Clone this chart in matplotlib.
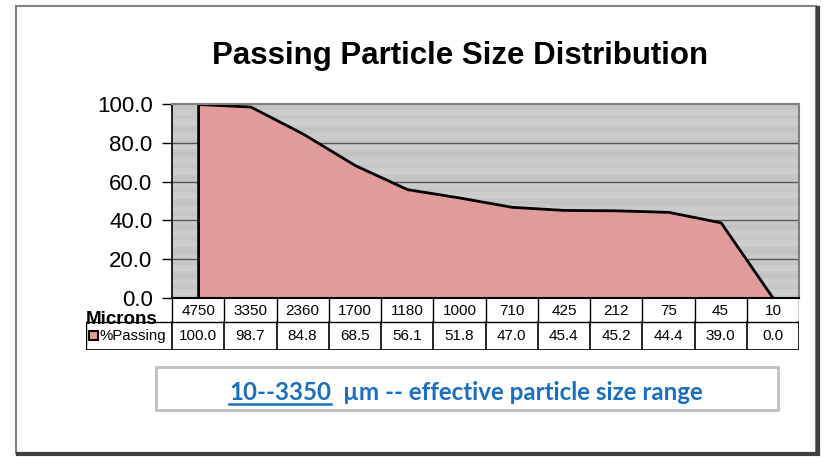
import numpy as np
import matplotlib
matplotlib.use("Agg")
import matplotlib.pyplot as plt
from matplotlib.patches import Rectangle
from matplotlib.lines import Line2D

# ---- data ----
microns = ["4750", "3350", "2360", "1700", "1180", "1000", "710", "425", "212", "75", "45", "10"]
passing = [100.0, 98.7, 84.8, 68.5, 56.1, 51.8, 47.0, 45.4, 45.2, 44.4, 39.0, 0.0]
yticks = [0, 20, 40, 60, 80, 100]
title = "Passing Particle Size Distribution"
series_name = "%Passing"
row_header = "Microns"
note_range = "10--3350"
note_rest = "µm -- effective particle size range"

W, H = 827, 458
fig = plt.figure(figsize=(W / 100, H / 100), dpi=100)
fig.patch.set_facecolor("white")

def fx(px):
    return px / W

def fy(py):
    return 1 - py / H

# outer frame
fig.patches.append(Rectangle((fx(16), fy(453)), fx(816) - fx(16), fy(6) - fy(453),
                             transform=fig.transFigure, fill=False, edgecolor="#808080", lw=1.5))
fig.lines.append(Line2D([fx(818), fx(818)], [fy(452), fy(8)], transform=fig.transFigure,
                        color="#404040", lw=3))
fig.lines.append(Line2D([fx(18), fx(818)], [fy(454), fy(454)], transform=fig.transFigure,
                        color="#404040", lw=3))

# plot area
L, R, T, B = 172, 799, 104, 298
ax = fig.add_axes([fx(L), fy(B), fx(R) - fx(L), fy(T) - fy(B)])
n = len(microns)
x = np.arange(n)
ax.set_xlim(-0.5, n - 0.5)
ax.set_ylim(0, 100)

# striped gray background
rows = 64
stripe = np.array([0.76, 0.78, 0.80, 0.79, 0.77, 0.80, 0.81, 0.78] * (rows // 8))
img = np.repeat(stripe[:, None], 2, axis=1)
ax.imshow(img, cmap="gray", vmin=0, vmax=1, extent=(-0.5, n - 0.5, 0, 100),
          aspect="auto", zorder=0, interpolation="nearest")

for yv in yticks[1:-1]:
    ax.axhline(yv, color="#555555", lw=1.0, zorder=1)

ax.fill_between(x, passing, 0, facecolor="#e09b9a", edgecolor="black", lw=2, zorder=2)

ax.set_yticks(yticks)
ax.set_yticklabels([f"{v:.1f}" for v in yticks], fontsize=16, family="Liberation Sans")
ax.tick_params(axis="y", length=7, width=1, pad=7, color="black")
ax.set_xticks([])
for s in ["top", "right"]:
    ax.spines[s].set_color("#808080")
    ax.spines[s].set_linewidth(1.5)
ax.spines["left"].set_color("black")
ax.spines["bottom"].set_color("black")
ax.spines["left"].set_linewidth(1.2)
ax.spines["bottom"].set_linewidth(1.5)

# data table
TL, R1, R2 = 86, 322, 350
cat_w = (R - L) / n
tax = fig.add_axes([fx(TL), fy(R2), fx(R) - fx(TL), fy(B) - fy(R2)])
tax.set_xlim(-0.5 - (L - TL) / cat_w, n - 0.5)
tax.set_ylim(0, R2 - B)
tax.axis("off")
y_r1 = R2 - R1
lc = "black"
for i in range(n + 1):
    tax.plot([i - 0.5, i - 0.5], [y_r1, R2 - B], color=lc, lw=1)
x_left = -0.5 - (L - TL) / cat_w
tax.plot([x_left, n - 0.5], [y_r1, y_r1], color=lc, lw=1)
tax.plot([x_left, n - 0.5], [0, 0], color=lc, lw=1.2)
tax.plot([x_left, x_left], [0, y_r1], color=lc, lw=1)
for i in range(n + 1):
    tax.plot([i - 0.5, i - 0.5], [0, y_r1], color=lc, lw=1.2)

tf = ["Liberation Sans", "DejaVu Sans"]
for i in range(n):
    tax.text(i, (y_r1 + R2 - B) / 2 - 1, microns[i], ha="center", va="center",
             fontsize=11, family=tf)
    tax.text(i, y_r1 / 2, f"{passing[i]:.1f}", ha="center", va="center",
             fontsize=11, family=tf)

tax.text(x_left - 0.01, y_r1 + 3, row_header, ha="left", va="center",
         fontsize=13.5, fontweight="bold", family="Liberation Sans")
key_x0 = x_left + 2.5 / cat_w
tax.add_patch(Rectangle((key_x0, y_r1 / 2 - 4), 9 / cat_w, 9, facecolor="#e09b9a",
                        edgecolor="black", lw=1.5))
tax.text(key_x0 + 11 / cat_w, y_r1 / 2, series_name, ha="left", va="center",
         fontsize=10.8, family=tf)

# title
fig.text(fx(460), fy(56), title, ha="center", va="center", fontsize=22.5,
         fontweight="bold", family="Liberation Sans")

# note box
fig.patches.append(Rectangle((fx(156), fy(410)), fx(778) - fx(156), fy(367) - fy(410),
                             transform=fig.transFigure, fill=False, edgecolor="#c0c0c0", lw=2))
blue = "#1b6fc2"
nf = ["Lato", "DejaVu Sans"]
t1 = fig.text(0, fy(392), note_range, ha="left", va="center", fontsize=17.4,
              fontweight="bold", color=blue, family=nf)
t2 = fig.text(0, fy(392), note_rest, ha="left", va="center", fontsize=17.4,
              fontweight="bold", color=blue, family=nf)
fig.canvas.draw()
r = fig.canvas.get_renderer()
w1 = t1.get_window_extent(r).width
w2 = t2.get_window_extent(r).width
gap = 12
total = w1 + gap + w2
start = 466 - total / 2
t1.set_x(fx(start))
t2.set_x(fx(start + w1 + gap))
fig.lines.append(Line2D([fx(start), fx(start + w1)], [fy(404), fy(404)],
                        transform=fig.transFigure, color=blue, lw=1.8))

fig.savefig("out.png", dpi=100)
